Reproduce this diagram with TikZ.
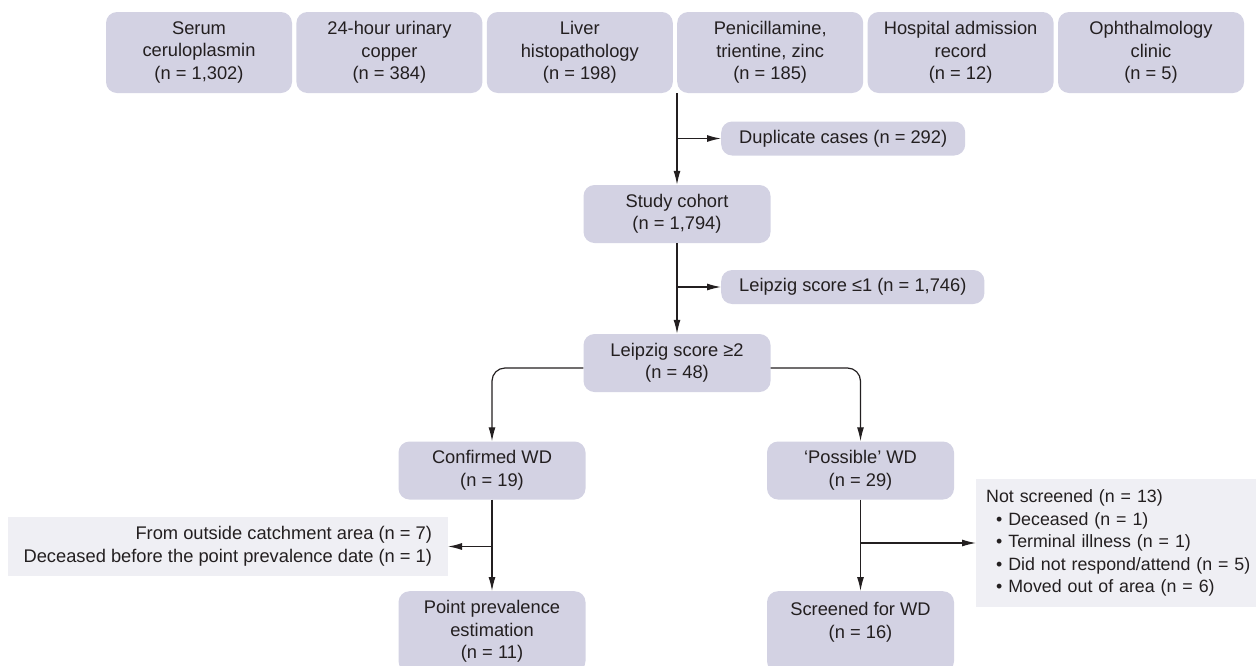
\documentclass[tikz,border=0pt]{standalone}
\usepackage{fontspec}
\setmainfont{Liberation Sans}
\usetikzlibrary{positioning,arrows.meta}

\definecolor{boxfill}{HTML}{D3D2E3}
\definecolor{notefill}{HTML}{EFEFF4}
\definecolor{txtcol}{HTML}{231F20}
\definecolor{linecol}{HTML}{231F20}

\tikzset{
  srcbox/.style={fill=boxfill, rounded corners=11pt, minimum width=186pt,
    minimum height=81pt, inner sep=0pt, align=center, text=txtcol},
  stagebox/.style={srcbox, minimum width=187pt, minimum height=58pt},
  exbox/.style={fill=boxfill, rounded corners=11pt, minimum height=34pt,
    inner xsep=18pt, inner ysep=0pt, text=txtcol},
  notebox/.style={fill=notefill, inner xsep=12pt, inner ysep=0pt, text=txtcol},
  arr/.style={draw=linecol, line width=1.2pt, -{Latex[length=14pt,width=7pt]}},
}

\begin{document}
\begin{tikzpicture}[x=1pt, y=-1pt, font={\fontsize{18.3}{22.5}\selectfont}]
  \useasboundingbox (0,0) rectangle (1256,665);

  % 数据来源
  \node[srcbox] (s1) at (199,52.5) {Serum\\ceruloplasmin\\(n = 1,302)};
  \node[srcbox, right=4pt of s1] (s2) {24-hour urinary\\copper\\(n = 384)};
  \node[srcbox, right=4pt of s2] (s3) {Liver\\histopathology\\(n = 198)};
  \node[srcbox, right=4pt of s3] (s4) {Penicillamine,\\trientine, zinc\\(n = 185)};
  \node[srcbox, right=4pt of s4] (s5) {Hospital admission\\record\\(n = 12)};
  \node[srcbox, right=4pt of s5] (s6) {Ophthalmology\\clinic\\(n = 5)};

  % 主流程
  \node[stagebox] (study) at (677,214) {Study cohort\\(n = 1,794)};
  \coordinate (j1) at (677,138.5);
  \node[exbox, right=44pt of j1] (dup) {Duplicate cases (n = 292)};
  \coordinate (j2) at (677,287);
  \node[exbox, right=44pt of j2] (lz1) {Leipzig score ≤1 (n = 1,746)};
  \node[stagebox] (lz2) at (677,363) {Leipzig score ≥2\\(n = 48)};

  % 分支
  \node[stagebox] (conf) at (492,470.5) {Confirmed WD\\(n = 19)};
  \node[stagebox] (poss) at (860.5,470.5) {‘Possible’ WD\\(n = 29)};
  \node[srcbox, minimum width=187pt, anchor=north] (point) at (492,591)
    {Point prevalence\\estimation\\(n = 11)};
  \node[srcbox, minimum width=187pt, anchor=north] (scr) at (860.5,591)
    {Screened for WD\\(n = 16)\\\mbox{}};

  % 排除
  \node[notebox, anchor=east, align=right, minimum width=440pt, minimum height=59pt]
    (lnote) at (448,546.5)
    {From outside catchment area (n = 7)\\Deceased before the point prevalence date (n = 1)};
  \node[notebox, anchor=west, text width=300pt, align=left, inner xsep=10pt,
    minimum height=128pt, font={\fontsize{17.8}{22.5}\selectfont}] (rnote) at (976,543)
    {Not screened (n = 13)\\
     \hspace*{10pt}• Deceased (n = 1)\\
     \hspace*{10pt}• Terminal illness (n = 1)\\
     \hspace*{10pt}• Did not respond/attend (n = 5)\\
     \hspace*{10pt}• Moved out of area (n = 6)};

  % 连线
  \draw[arr] (study.north |- s3.south) -- (study.north);
  \draw[arr] (j1) -- (dup.west);
  \draw[arr] (study.south) -- (lz2.north);
  \draw[arr] (j2) -- (lz1.west);
  \draw[arr, rounded corners=13pt] ([yshift=-5pt]lz2.west) -| (conf.north);
  \draw[arr, rounded corners=13pt] ([yshift=-5pt]lz2.east) -| (poss.north);
  \draw[arr] (conf.south) -- (point.north);
  \draw[arr] (conf.south |- lnote.east) -- (lnote.east);
  \draw[arr] (poss.south) -- (scr.north);
  \draw[arr] (poss.south |- rnote.west) -- (rnote.west);
\end{tikzpicture}
\end{document}
